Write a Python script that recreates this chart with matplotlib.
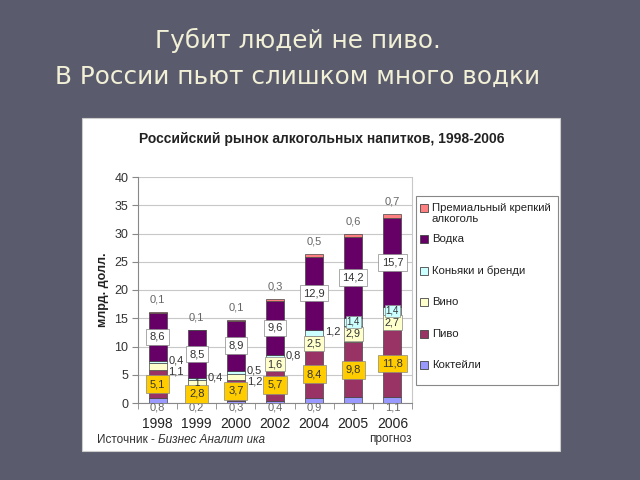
import matplotlib.pyplot as plt
from matplotlib.patches import Rectangle
import numpy as np

years = ['1998', '1999', '2000', '2002', '2004', '2005', '2006']
cocktails = [0.8, 0.2, 0.3, 0.4, 0.9, 1.0, 1.1]
beer = [5.1, 2.8, 3.7, 5.7, 8.4, 9.8, 11.8]
wine = [1.1, 1.0, 1.2, 1.6, 2.5, 2.9, 2.7]
brandy = [0.4, 0.4, 0.5, 0.8, 1.2, 1.4, 1.4]
vodka = [8.6, 8.5, 8.9, 9.6, 12.9, 14.2, 15.7]
premium = [0.1, 0.1, 0.1, 0.3, 0.5, 0.6, 0.7]
series_names = ['Коктейли', 'Пиво', 'Вино', 'Коньяки и бренди', 'Водка',
                'Премиальный крепкий\nалкоголь']
y_ticks = [0, 5, 10, 15, 20, 25, 30, 35, 40]

W, H = 640, 480
SLIDE_BG = '#5a5c6d'
COLORS = ['#9999ff', '#993366', '#ffffcc', '#ccffff', '#660066', '#ff8080']
TXT = '#333333'
plt.rcParams['font.family'] = ['Liberation Sans', 'DejaVu Sans']


def fx(px):
    return px / W


def fy(py):
    return 1 - py / H


def fmt(v):
    return f'{v:g}'.replace('.', ',')


def boxed(ax, x, y, v, face, size=8, pad=0.25):
    ax.text(x, y, fmt(v), ha='center', va='center', fontsize=size, color=TXT,
            bbox=dict(boxstyle=f'square,pad={pad}', fc=face, ec='#888888', lw=0.5),
            zorder=5)


def draw_legend(fig):
    # hand-built legend box so the two-line entry keeps the Excel spacing
    fig.patches.append(Rectangle((fx(416), fy(385)), fx(558) - fx(416), fy(196) - fy(385),
                                 transform=fig.transFigure, fc='white', ec='#888888',
                                 lw=0.8, zorder=1))
    for k, (name, col) in enumerate(zip(series_names[::-1], COLORS[::-1])):
        yc = 208 + k * 31.4
        fig.patches.append(Rectangle((fx(420), fy(yc + 4)), fx(8), fy(0) - fy(8),
                                     transform=fig.transFigure, fc=col, ec='#444444',
                                     lw=0.6, zorder=2))
        fig.text(fx(432), fy(yc - 5), name, ha='left', va='top', fontsize=8.2,
                 color='#222222', linespacing=1.15, zorder=2)


def plot_market():
    fig = plt.figure(figsize=(6.4, 4.8), dpi=100, facecolor=SLIDE_BG)

    # slide heading
    fig.text(fx(298), fy(40), 'Губит людей не пиво.', ha='center', va='center',
             fontsize=17.8, color='#f2f0d6', family='DejaVu Sans')
    fig.text(fx(298), fy(77), 'В России пьют слишком много водки', ha='center',
             va='center', fontsize=17.8, color='#f2f0d6', family='DejaVu Sans')

    # white chart panel
    fig.patches.append(Rectangle((fx(82), fy(451)), fx(560) - fx(82), fy(118) - fy(451),
                                 transform=fig.transFigure, fc='white', ec='#cccccc',
                                 lw=0.8, zorder=-1))

    fig.text(fx(322), fy(139), 'Российский рынок алкогольных напитков, 1998-2006',
             ha='center', va='center', fontsize=10, fontweight='bold', color='#222222')

    ax = fig.add_axes([fx(138), fy(403), fx(412) - fx(138), fy(177) - fy(403)])
    ax.set_facecolor('white')

    x = np.arange(len(years))
    series = [cocktails, beer, wine, brandy, vodka, premium]
    bottom = np.zeros(len(years))
    bottoms = []
    for vals, col in zip(series, COLORS):
        bottoms.append(bottom.copy())
        ax.bar(x, vals, 0.46, bottom=bottom, color=col, edgecolor='#444444',
               linewidth=0.5, zorder=3)
        bottom = bottom + np.array(vals)
    top = bottom

    for i in x:
        # cocktails under the axis
        ax.text(i, -0.85, fmt(cocktails[i]), ha='center', va='center', fontsize=8,
                color='#666666', clip_on=False)
        # beer
        boxed(ax, i, bottoms[1][i] + beer[i] / 2, beer[i], '#ffcc00', 8, 0.35)
        # wine
        wy = bottoms[2][i] + wine[i] / 2
        if i in (0, 2):
            ax.text(i + 0.28, wy - 0.8, fmt(wine[i]), ha='left', va='center',
                    fontsize=8, color=TXT, zorder=5)
        elif i == 1:
            ax.text(i, wy, fmt(wine[i]), ha='center', va='center', fontsize=7,
                    color=TXT, zorder=5)
        else:
            boxed(ax, i, wy, wine[i], '#ffffcc', 7.8, 0.2)
        # brandy
        by = bottoms[3][i] + brandy[i] / 2
        if i in (5, 6):
            boxed(ax, i, by, brandy[i], '#ccffff', 7, 0.1)
        else:
            ax.text(i + 0.28, by + 0.3, fmt(brandy[i]), ha='left', va='center',
                    fontsize=8, color=TXT, zorder=5)
        # vodka
        boxed(ax, i, bottoms[4][i] + vodka[i] / 2, vodka[i], 'white', 8, 0.3)
        # premium above the bar
        ax.text(i, top[i] + 2.2, fmt(premium[i]), ha='center', va='center',
                fontsize=8, color='#666666')

    ax.set_xlim(-0.5, len(years) - 0.5)
    ax.set_ylim(0, 40)
    ax.set_yticks(y_ticks)
    ax.set_yticklabels([str(t) for t in y_ticks], fontsize=9, color='#333333')
    ax.set_xticks(x)
    ax.set_xticklabels(years, fontsize=10, color='#222222')
    ax.set_xticks(np.arange(-0.5, len(years), 1), minor=True)
    ax.tick_params(axis='x', which='major', length=0, pad=10)
    ax.tick_params(axis='x', which='minor', length=4, color='#888888')
    ax.tick_params(axis='y', length=4, color='#888888', pad=3)
    ax.grid(axis='y', color='#c8c8c8', lw=0.8, zorder=0)
    for s in ['left', 'bottom']:
        ax.spines[s].set_color('#888888')
    ax.spines['right'].set_color('#c8c8c8')
    ax.spines['top'].set_visible(False)

    fig.text(fx(103), fy(290), 'млрд. долл.', rotation=90, ha='center', va='center',
             fontsize=9, fontweight='bold', color='#222222')

    draw_legend(fig)

    src = fig.text(fx(97), fy(440), 'Источник - ', ha='left', va='center',
                   fontsize=8.5, color='#333333')
    ax.annotate('Бизнес Аналит ика', xy=(1.0, 0.5), xycoords=src, ha='left',
                va='center', fontsize=8.5, style='italic', color='#333333',
                annotation_clip=False)
    fig.text(fx(390), fy(439), 'прогноз', ha='center', va='center', fontsize=8.5,
             color='#333333')

    fig.savefig('out.png', dpi=100, facecolor=SLIDE_BG)


def main():
    plot_market()


if __name__ == '__main__':
    main()
